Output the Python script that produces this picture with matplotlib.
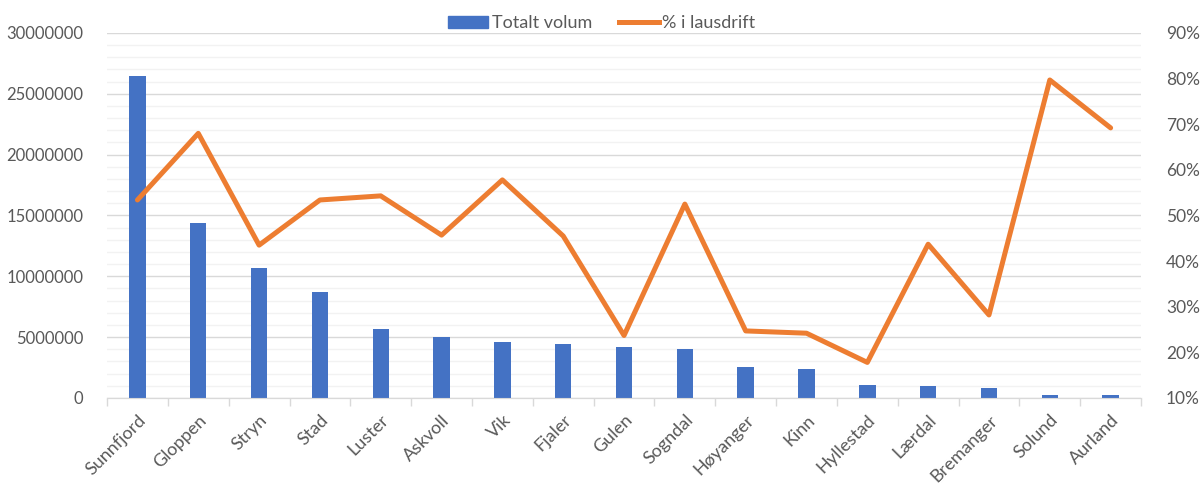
import matplotlib
matplotlib.use("Agg")
import matplotlib.pyplot as plt
from matplotlib.ticker import MultipleLocator, FuncFormatter, FixedLocator
from matplotlib.lines import Line2D
from matplotlib.patches import Patch

kommunar = ["Sunnfjord", "Gloppen", "Stryn", "Stad", "Luster", "Askvoll", "Vik",
            "Fjaler", "Gulen", "Sogndal", "Høyanger", "Kinn", "Hyllestad",
            "Lærdal", "Bremanger", "Solund", "Aurland"]
totalt_volum = [26500000, 14360000, 10700000, 8680000, 5670000, 5040000, 4630000,
                4460000, 4160000, 4030000, 2520000, 2410000, 1070000,
                1010000, 790000, 250000, 250000]
pst_lausdrift = [53.4, 68.0, 43.5, 53.4, 54.3, 45.7, 57.8,
                 45.5, 23.7, 52.5, 24.7, 24.2, 17.8,
                 43.7, 28.2, 79.7, 69.2]

plt.rcParams['font.family'] = ['Lato', 'DejaVu Sans']
txt = '#595959'

fig = plt.figure(figsize=(12.04, 4.83), dpi=100)
ax = fig.add_axes([0.0889, 0.176, 0.8588, 0.7557])
ax2 = ax.twinx()

x = list(range(len(kommunar)))
ax.bar(x, totalt_volum, width=0.27, color='#4472C4', zorder=3)
ax2.plot(x, pst_lausdrift, color='#ED7D31', lw=3.6, solid_joinstyle='round',
         solid_capstyle='round', zorder=4)

ax.set_xlim(-0.5, len(kommunar) - 0.5)
ax.set_ylim(0, 30000000)
ax.yaxis.set_major_locator(MultipleLocator(5000000))
ax.yaxis.set_minor_locator(MultipleLocator(1000000))
ax.yaxis.set_major_formatter(FuncFormatter(lambda v, p: f"{int(v)}"))
ax.grid(axis='y', which='major', color='#D9D9D9', lw=1.0, zorder=0)
ax.grid(axis='y', which='minor', color='#F2F2F2', lw=1.0, zorder=0)
ax.set_axisbelow(True)

ax2.set_ylim(10, 90)
ax2.yaxis.set_major_locator(MultipleLocator(10))
ax2.yaxis.set_major_formatter(FuncFormatter(lambda v, p: f"{int(v)}%"))

ax.set_xticks(x)
ax.set_xticklabels(kommunar, rotation=45, ha='right', rotation_mode='anchor')
ax.xaxis.set_minor_locator(FixedLocator([i + 0.5 for i in range(-1, len(kommunar))]))
ax.tick_params(axis='x', which='major', length=0, pad=10, labelsize=13, labelcolor=txt)
ax.tick_params(axis='x', which='minor', length=6, color='#D9D9D9', width=1)
ax.tick_params(axis='y', which='both', length=0, labelsize=12, labelcolor=txt, pad=17)
ax2.tick_params(axis='y', length=0, labelsize=12.5, labelcolor=txt, pad=18)

for a in (ax, ax2):
    for s in ('top', 'left', 'right'):
        a.spines[s].set_visible(False)
    a.spines['bottom'].set_color('#D9D9D9')

handles = [Patch(color='#4472C4'), Line2D([0], [0], color='#ED7D31', lw=3.6)]
fig.legend(handles, ["Totalt volum", "% i lausdrift"], loc='center',
           bbox_to_anchor=(0.5, 0.952), ncol=2, frameon=False, fontsize=13,
           labelcolor=txt, handlelength=2.2, handletextpad=0.2, columnspacing=1.5)

fig.savefig("out.png", dpi=100)
